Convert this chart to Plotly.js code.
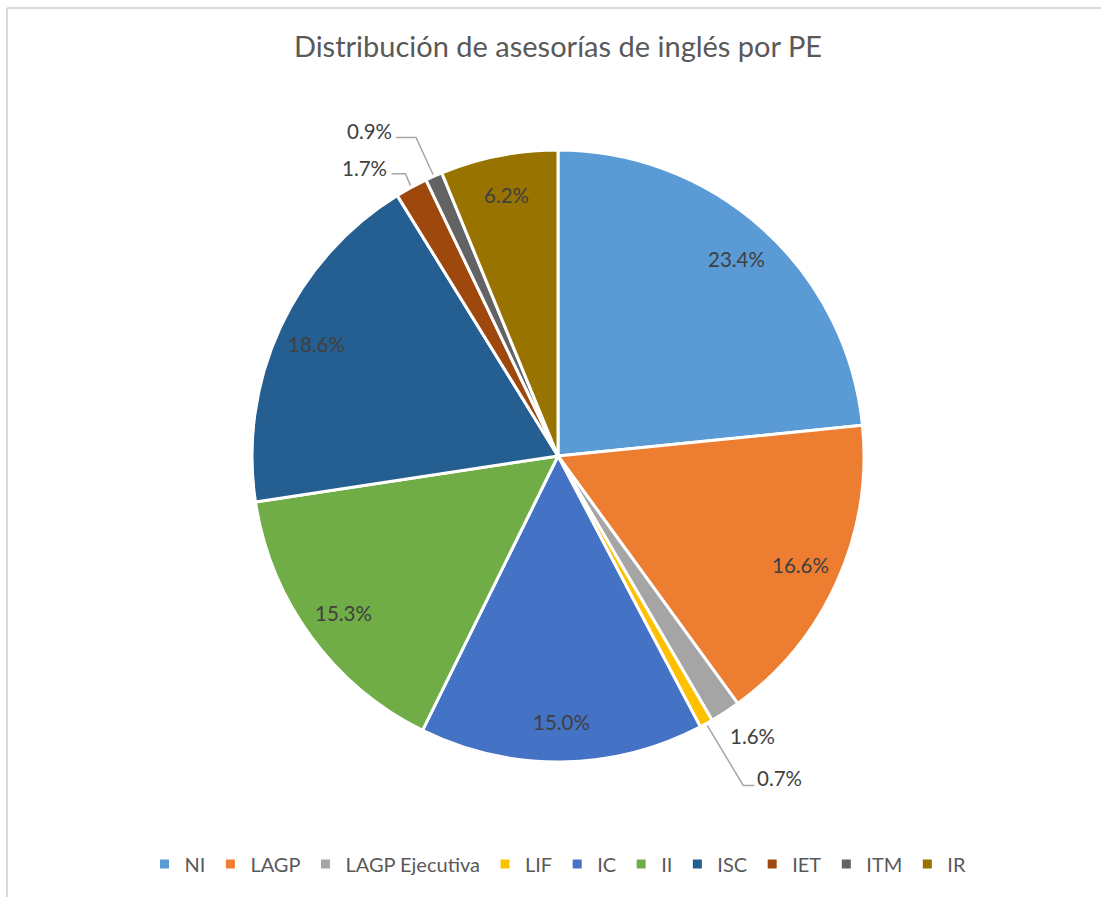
<!DOCTYPE html>
<html>
<head>
<meta charset="utf-8">
<script src="https://cdn.plot.ly/plotly-3.0.1.min.js"></script>
<style>html,body{margin:0;padding:0;background:#fff;}#chart{width:1101px;height:897px;}</style>
</head>
<body>
<div id="chart"></div>
<script>
// ---- data ----
const categories = ['NI', 'LAGP', 'LAGP Ejecutiva', 'LIF', 'IC', 'II', 'ISC', 'IET', 'ITM', 'IR'];
const values = [23.4, 16.6, 1.6, 0.7, 15.0, 15.3, 18.6, 1.7, 0.9, 6.2];
const colors = ['#5B9BD5', '#ED7D31', '#A5A5A5', '#FFC000', '#4472C4', '#70AD47', '#255E91', '#9E480E', '#636363', '#997300'];
const titleText = 'Distribución de asesorías de inglés por PE';

// ---- layout geometry ----
const W = 1101, H = 897, CX = 558, CY = 456, R = 306;
const px = x => x / W, py = y => 1 - y / H;
const FONT = 'Lato, "Open Sans", sans-serif';
const LABEL_SIZE = 20.5;
const insideFrac = 0.87;
// outside label settings: elbow offset from slice edge point, label side
const outside = {
  'LAGP Ejecutiva': {label: [26, 22], anchor: 'center'},
  'LIF': {elbow: [36, 60], run: 11, anchor: 'left', dy: -7},
  'IET': {elbow: [-5, -12], run: -14, anchor: 'right', dy: -6},
  'ITM': {elbow: [-17, -37], run: -20, anchor: 'right', dy: -6}
};

const total = values.reduce((a, b) => a + b, 0);
const annotations = [];
const shapes = [];
let cum = 0;
values.forEach((v, i) => {
  const mid = (cum + v / 2) / total * 2 * Math.PI;
  cum += v;
  const sx = Math.sin(mid), cy = Math.cos(mid);
  const txt = (v / total * 100).toFixed(1) + '%';
  const cfg = outside[categories[i]];
  const font = {family: FONT, size: LABEL_SIZE, color: '#404040'};
  if (!cfg) {
    annotations.push({
      x: px(CX + insideFrac * R * sx), y: py(CY - insideFrac * R * cy),
      xref: 'paper', yref: 'paper', text: txt, showarrow: false,
      font: font, xanchor: 'center', yanchor: 'middle'
    });
  } else {
    const ex = CX + (R + 2) * sx, ey = CY - (R + 2) * cy;
    if (cfg.label) {
      annotations.push({
        x: px(ex + cfg.label[0]), y: py(ey + cfg.label[1]), xref: 'paper', yref: 'paper',
        text: txt, showarrow: false, font: font,
        xanchor: cfg.anchor, yanchor: 'middle'
      });
    } else {
      const bx = ex + cfg.elbow[0], by = ey + cfg.elbow[1];
      const hx = bx + cfg.run;
      shapes.push({type: 'path', xref: 'paper', yref: 'paper',
        path: `M ${px(ex)} ${py(ey)} L ${px(bx)} ${py(by)} L ${px(hx)} ${py(by)}`,
        line: {color: '#a6a6a6', width: 1.5}});
      annotations.push({
        x: px(hx + (cfg.anchor === 'left' ? 1 : -2)), y: py(by + cfg.dy), xref: 'paper', yref: 'paper',
        text: txt, showarrow: false, font: font,
        xanchor: cfg.anchor, yanchor: 'middle'
      });
    }
  }
});

// frame
shapes.push({type: 'line', xref: 'paper', yref: 'paper', x0: px(7), x1: 1, y0: py(8), y1: py(8), line: {color: '#d9d9d9', width: 2}});
shapes.push({type: 'line', xref: 'paper', yref: 'paper', x0: px(7), x1: px(7), y0: py(8), y1: 0, line: {color: '#d9d9d9', width: 2}});

const trace = {
  type: 'pie',
  labels: categories,
  values: values,
  sort: false,
  direction: 'clockwise',
  rotation: 0,
  textinfo: 'none',
  hoverinfo: 'label+percent',
  marker: {colors: colors, line: {color: '#ffffff', width: 3}},
  domain: {x: [px(CX - R), px(CX + R)], y: [py(CY + R), py(CY - R)]}
};

const layout = {
  width: W, height: H,
  margin: {l: 0, r: 0, t: 0, b: 0},
  paper_bgcolor: '#ffffff',
  font: {family: FONT, color: '#595959'},
  title: {text: titleText, x: px(CX), xanchor: 'center', y: py(47), yanchor: 'middle',
          xref: 'paper', yref: 'paper', font: {family: FONT, size: 29, color: '#595959'}},
  showlegend: true,
  legend: {orientation: 'h', x: px(CX), xanchor: 'center', y: py(864), yanchor: 'middle',
           font: {family: FONT, size: 20, color: '#595959'}, itemclick: false, traceorder: 'normal'},
  annotations: annotations,
  shapes: shapes
};

Plotly.newPlot('chart', [trace], layout, {displayModeBar: false, staticPlot: true});
</script>
</body>
</html>
